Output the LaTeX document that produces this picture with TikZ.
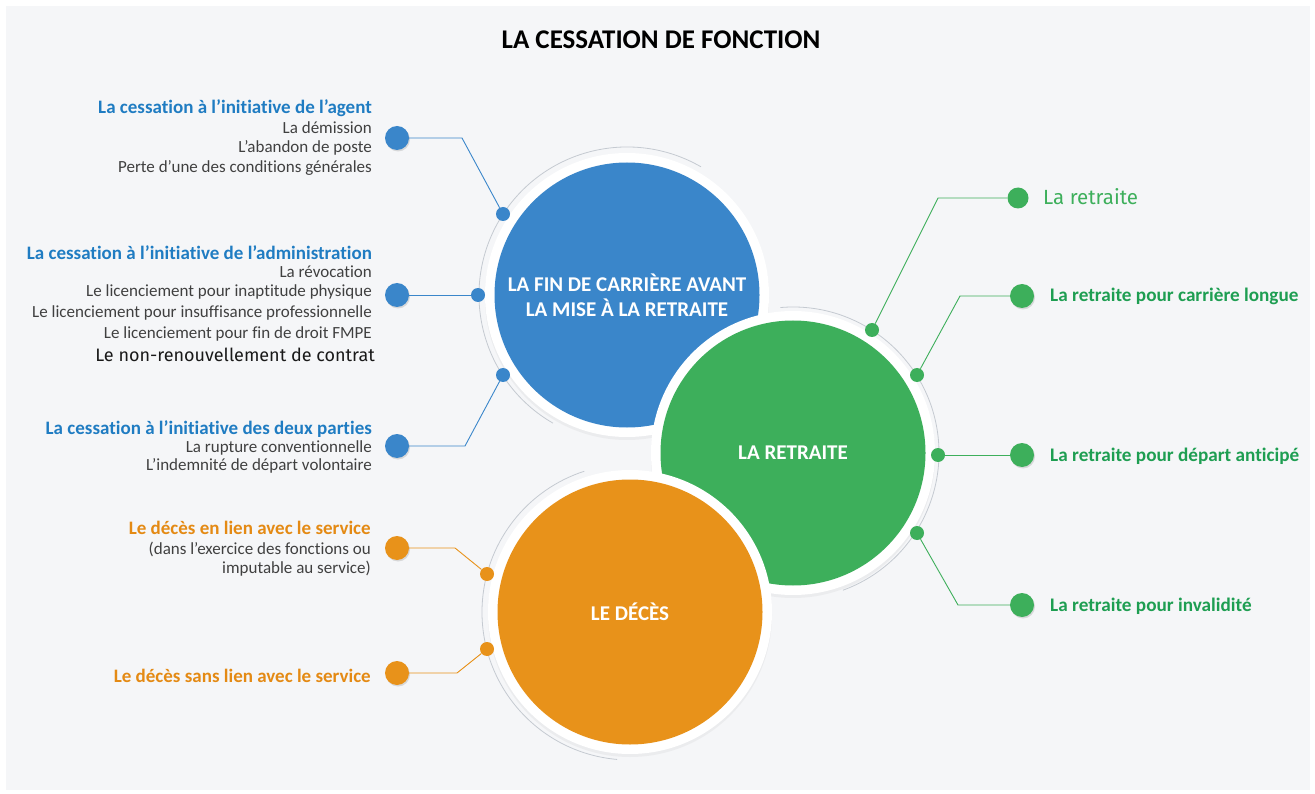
\documentclass[tikz,border=0pt]{standalone}
\usepackage{fontspec}
\setmainfont{Carlito}[Ligatures=NoCommon]
\newfontfamily\dinfont{Fira Sans}
\usetikzlibrary{shadows}
\definecolor{bg}{HTML}{F5F6F8}
\definecolor{cblue}{HTML}{3A86CA}
\definecolor{tblue}{HTML}{1F7CC2}
\definecolor{cgreen}{HTML}{3DAF5B}
\definecolor{tgreen}{HTML}{1E9E52}
\definecolor{corange}{HTML}{E8921A}
\definecolor{torange}{HTML}{E48A14}
\definecolor{bodyc}{HTML}{404040}
\definecolor{ringc}{HTML}{C5CAD1}
\begin{document}
\begin{tikzpicture}[x=1pt,y=-1pt,
  bigdot/.style={circle, fill=#1, minimum size=24pt, inner sep=0pt,
    drop shadow={shadow xshift=1pt, shadow yshift=-1.5pt, opacity=0.25}},
  smalldot/.style={circle, fill=#1, minimum size=14pt, inner sep=0pt},
  link/.style={draw=#1, line width=0.9pt},
  ringline/.style={draw=ringc, line width=0.8pt},
  halo/.style={circle, fill=white, minimum size=284pt, inner sep=0pt,
    drop shadow={shadow xshift=0pt, shadow yshift=-3pt, opacity=0.08}},
  bigcircle/.style={circle, fill=#1, minimum size=265pt, inner sep=0pt, text=white,
    align=center, font=\bfseries\fontsize{21}{25}\selectfont},
  head/.style={anchor=base east, text=#1, font=\bfseries\fontsize{19}{21}\selectfont, inner sep=0pt},
  item/.style={anchor=base east, text=bodyc, font=\fontsize{17}{19}\selectfont, inner sep=0pt},
  rhead/.style={anchor=base west, text=tgreen, font=\bfseries\fontsize{19.2}{21}\selectfont, inner sep=0pt}
]
\useasboundingbox (0,0) rectangle (1315,794);
\fill[white] (0,0) rectangle (1315,794);
\fill[bg] (6,6) rectangle (1310,790);

% title
\node[anchor=base, inner sep=0pt, font=\bfseries\fontsize{27}{30}\selectfont] (title) at (661,49) {LA CESSATION DE FONCTION};

% ---- blue circle
\draw[ringline] (627,295) ++(120:148) arc[start angle=120, end angle=300, radius=148];
\node[halo] (bhalo) at (627,295) {};
\node[bigcircle=cblue] (bc) at (627,295) {LA FIN DE CARRIÈRE AVANT\\LA MISE À LA RETRAITE};

% ---- green circle
\draw[ringline] (793,453) ++(-95:146) arc[start angle=-95, end angle=70, radius=146];
\node[halo] (ghalo) at (793,453) {};
\node[bigcircle=cgreen] (gc) at (793,453) {LA RETRAITE};

% ---- orange circle
\draw[ringline] (630,612) ++(95:148) arc[start angle=95, end angle=252, radius=148];
\node[halo] (ohalo) at (630,612) {};
\node[bigcircle=corange] (oc) at (630,612) {LE DÉCÈS};

% ---- blue links
\node[smalldot=cblue] (sb1) at (503,214) {};
\node[smalldot=cblue] (sb2) at (478,295) {};
\node[smalldot=cblue] (sb3) at (503,375) {};
\node[bigdot=cblue] (db1) at (397,138) {};
\node[bigdot=cblue] (db2) at (397,295) {};
\node[bigdot=cblue] (db3) at (397,446) {};
\coordinate (kb1) at (462,138);
\coordinate (kb3) at (465,446);
\draw[link=cblue] (db1) -- (kb1) -- (sb1);
\draw[link=cblue] (db2) -- (sb2);
\draw[link=cblue] (db3) -- (kb3) -- (sb3);

% ---- green links
\node[smalldot=cgreen] (sg1) at (872,330) {};
\node[smalldot=cgreen] (sg2) at (917,375) {};
\node[smalldot=cgreen] (sg3) at (938,455) {};
\node[smalldot=cgreen] (sg4) at (917,533) {};
\node[circle, fill=cgreen, minimum size=21pt, inner sep=0pt] (dg0) at (1018,198) {};
\node[bigdot=cgreen] (dg1) at (1022,296) {};
\node[bigdot=cgreen] (dg2) at (1022,455) {};
\node[bigdot=cgreen] (dg3) at (1022,605) {};
\coordinate (kg0) at (938,198);
\coordinate (kg1) at (960,296);
\coordinate (kg3) at (958,605);
\draw[link=cgreen] (dg0) -- (kg0) -- (sg1);
\draw[link=cgreen] (dg1) -- (kg1) -- (sg2);
\draw[link=cgreen] (sg3) -- (dg2);
\draw[link=cgreen] (sg4) -- (kg3) -- (dg3);

% ---- orange links
\node[smalldot=corange] (so1) at (487,574) {};
\node[smalldot=corange] (so2) at (487,649) {};
\node[bigdot=corange] (do1) at (397,548) {};
\node[bigdot=corange] (do2) at (397,673) {};
\coordinate (ko1) at (455,548);
\coordinate (ko2) at (457,673);
\draw[link=corange] (do1) -- (ko1) -- (so1);
\draw[link=corange] (do2) -- (ko2) -- (so2);

% ---- blue texts
\node[head=tblue] (h1) at (372,114) {La cessation à l'initiative de l'agent};
\node[item] (i11) at (372,134) {La démission};
\node[item] (i12) at (372,153) {L'abandon de poste};
\node[item] (i13) at (372,173) {Perte d'une des conditions générales};

\node[head=tblue] (h2) at (372,260) {La cessation à l'initiative de l'administration};
\node[item] (i21) at (372,278) {La révocation};
\node[item] (i22) at (372,297) {Le licenciement pour inaptitude physique};
\node[item] (i23) at (372,318) {Le licenciement pour insuffisance professionnelle};
\node[item] (i24) at (372,339) {Le licenciement pour fin de droit FMPE};
\node[anchor=base east, inner sep=0pt, text=black!90, font=\dinfont\fontsize{18}{20}\selectfont] (i25) at (375,362) {Le non-renouvellement de contrat};

\node[head=tblue] (h3) at (372,434) {La cessation à l'initiative des deux parties};
\node[item] (i31) at (372,452) {La rupture conventionnelle};
\node[item] (i32) at (372,470) {L'indemnité de départ volontaire};

% ---- orange texts
\node[head=torange] (h4) at (371,534) {Le décès en lien avec le service};
\node[item] (i41) at (371,554) {(dans l'exercice des fonctions ou};
\node[item] (i42) at (371,573) {imputable au service)};
\node[head=torange] (h5) at (371,682) {Le décès sans lien avec le service};

% ---- green texts
\node[anchor=base west, inner sep=0pt, text=cgreen, font=\dinfont\fontsize{20.5}{22}\selectfont] (g0) at (1043,205) {La retraite};
\node[rhead] (g1) at (1050,302) {La retraite pour carrière longue};
\node[rhead] (g2) at (1050,461) {La retraite pour départ anticipé};
\node[rhead] (g3) at (1050,611) {La retraite pour invalidité};
\end{tikzpicture}
\end{document}
